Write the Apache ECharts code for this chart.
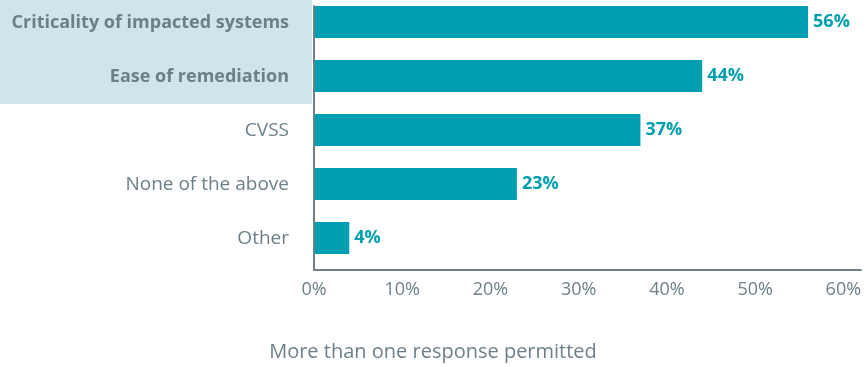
<!DOCTYPE html>
<html>
<head>
<meta charset="utf-8">
<script src="https://cdn.jsdelivr.net/npm/echarts@6/dist/echarts.min.js"></script>
<style>
  html, body { margin: 0; padding: 0; background: #ffffff; overflow: hidden; }
  /* canvas is 10px taller and lifted so the top band can start above the page edge */
  #chart { position: absolute; left: 0; top: -10px; width: 866px; height: 377px; }
</style>
</head>
<body>
<div id="chart"></div>
<script>
// Factors used to prioritise remediation (share of respondents)
const categories = [
  'Criticality of impacted systems',
  'Ease of remediation',
  'CVSS',
  'None of the above',
  'Other'
];
const values = [56, 44, 37, 23, 4];
const highlighted = ['Criticality of impacted systems', 'Ease of remediation'];
const tickValues = [0, 10, 20, 30, 40, 50, 60];
const footnote = 'More than one response permitted';

const FONT = '"Open Sans", "Noto Sans", sans-serif';
const TEAL = '#009fb0';
const GREY = '#6d8089';
const AXIS = '#6f8087';

const chart = echarts.init(document.getElementById('chart'), null, { renderer: 'canvas' });

chart.setOption({
  animation: false,
  grid: [
    // bars + category labels
    { left: 314, right: 5, top: 5, height: 270, containLabel: false, outerBoundsMode: 'none' },
    // axis frame + percentage ticks
    { left: 314, right: 5, top: 16, height: 264, containLabel: false, outerBoundsMode: 'none' }
  ],
  xAxis: [
    {
      gridIndex: 0, type: 'value', min: 0, max: 62, interval: 10,
      axisLine: { show: false }, axisTick: { show: false },
      axisLabel: { show: false }, splitLine: { show: false }
    },
    {
      gridIndex: 1, type: 'value', min: 0, max: 62, interval: 10, z: 10,
      axisLine: { show: true, lineStyle: { color: AXIS, width: 2 } },
      axisTick: { show: false },
      splitLine: { show: false },
      axisLabel: {
        showMaxLabel: false,
        margin: 11,
        color: GREY, fontFamily: FONT, fontSize: 18,
        formatter: v => tickValues.includes(v) ? v + '%' : ''
      }
    }
  ],
  yAxis: [
    {
      gridIndex: 0, type: 'category', data: categories, inverse: true,
      axisLine: { show: false }, axisTick: { show: false },
      axisLabel: {
        interval: 0,
        margin: 2,
        formatter: v => highlighted.includes(v) ? '{hl|' + v + '}' : '{n|' + v + '}',
        rich: {
          hl: {
            color: GREY, fontFamily: FONT, fontSize: 18, fontWeight: 'bold',
            backgroundColor: '#cee6eb', align: 'right',
            width: 289, height: 54, lineHeight: 54,
            padding: [2, 23, 0, 0]
          },
          n: {
            color: GREY, fontFamily: FONT, fontSize: 19,
            align: 'right', padding: [2, 23, 0, 0]
          }
        }
      }
    },
    {
      gridIndex: 1, type: 'category', data: categories, inverse: true, z: 10,
      axisLine: { show: true, lineStyle: { color: AXIS, width: 2 } },
      axisTick: { show: false }, axisLabel: { show: false }
    }
  ],
  graphic: [
    {
      type: 'text', left: 'center', top: 352,
      style: { text: footnote, fill: GREY, font: '20px ' + FONT }
    }
  ],
  series: [
    {
      type: 'bar', xAxisIndex: 0, yAxisIndex: 0,
      data: values, barWidth: 32,
      itemStyle: { color: TEAL },
      label: {
        show: true, position: 'right', distance: 5,
        color: TEAL, fontFamily: FONT, fontSize: 18, fontWeight: 'bold',
        formatter: p => p.value + '%'
      }
    }
  ]
});
</script>
</body>
</html>
